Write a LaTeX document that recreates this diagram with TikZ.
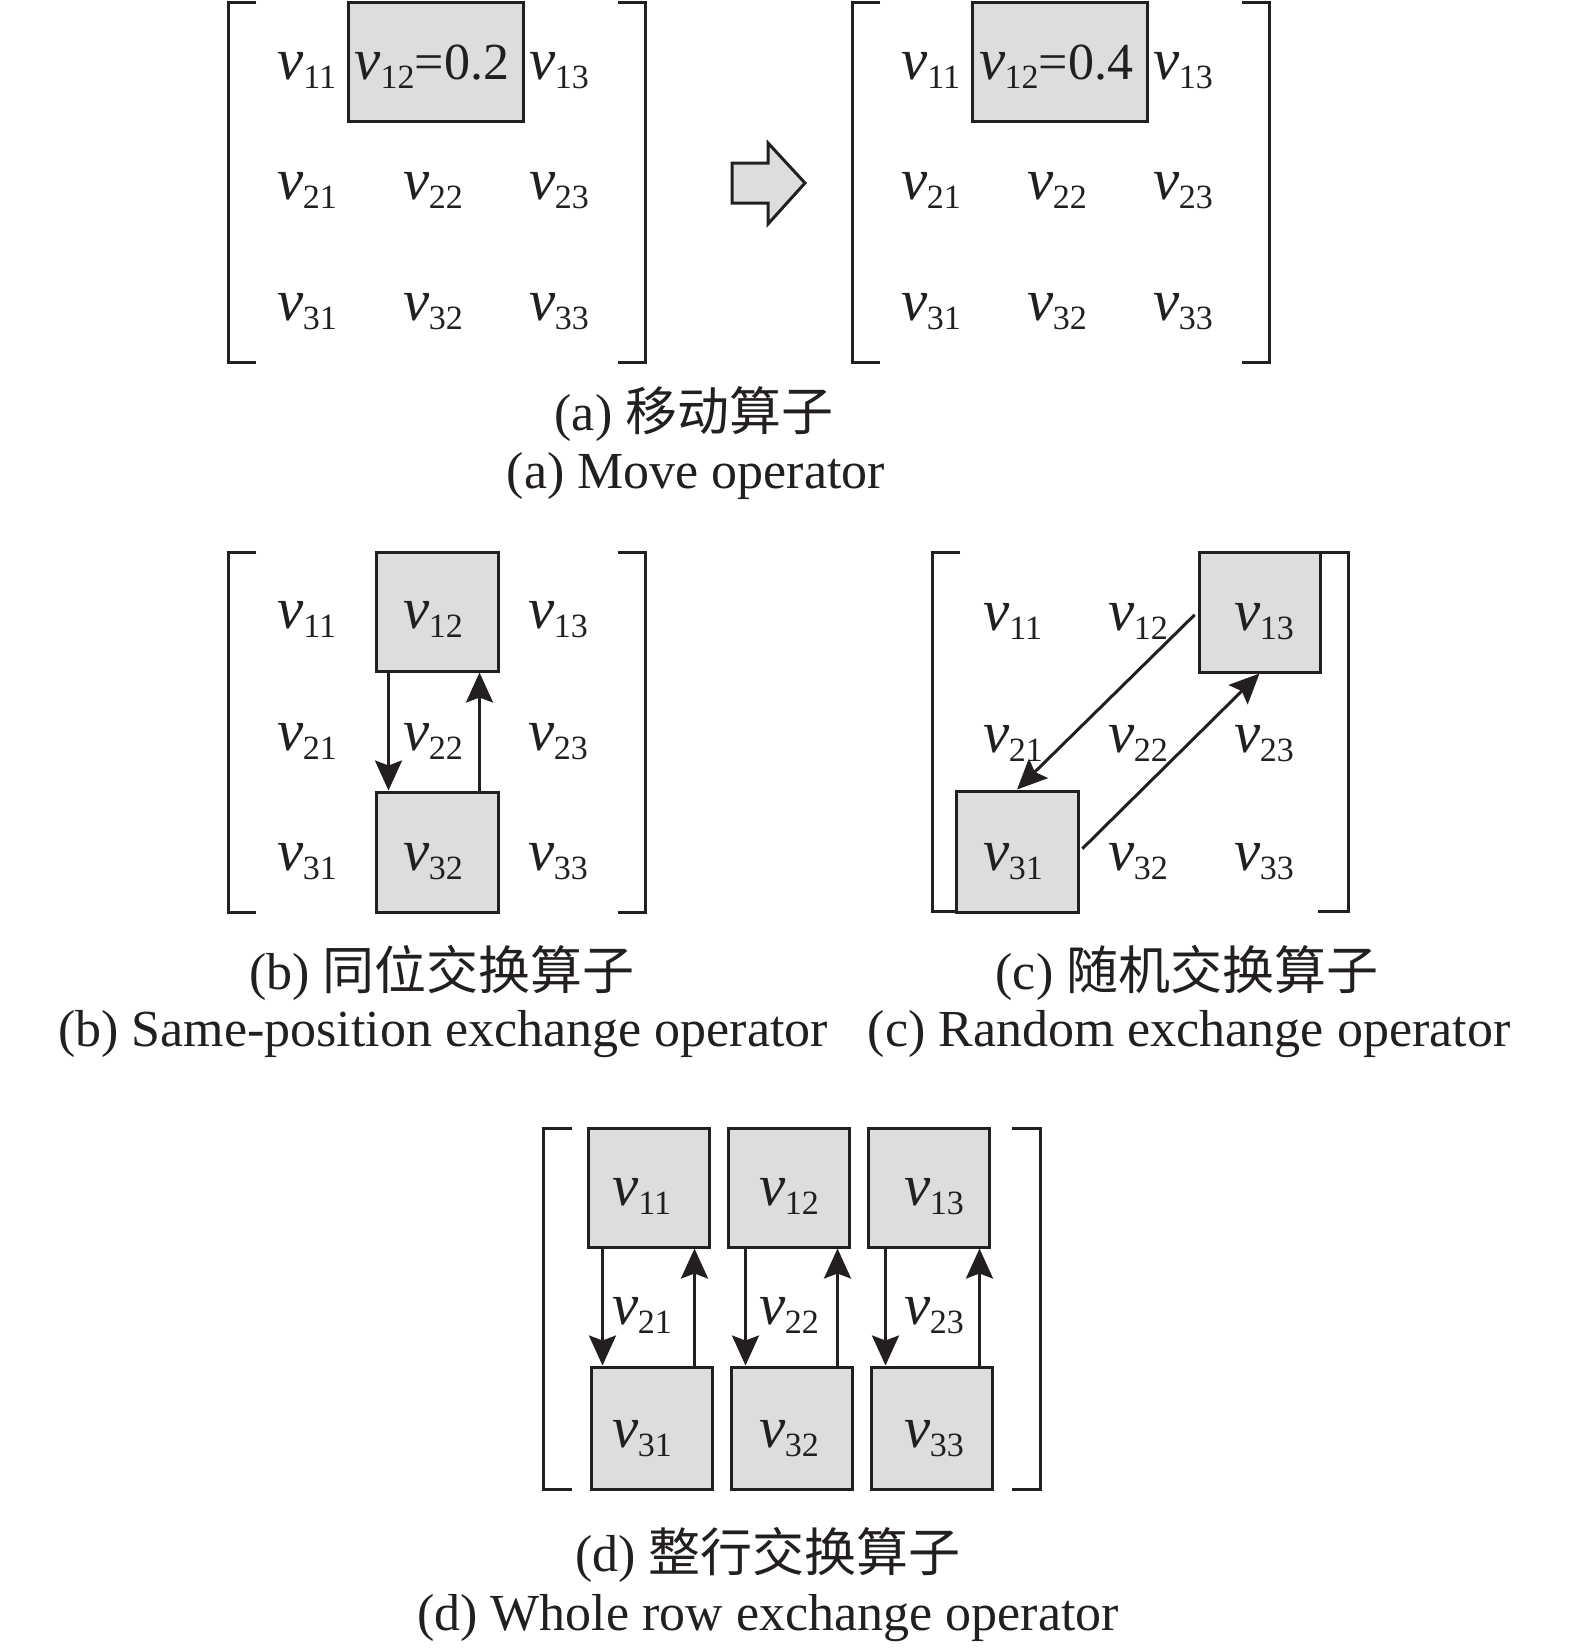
\documentclass[tikz,border=0pt]{standalone}
\usepackage{fontspec}
\setmainfont{Liberation Serif}
\newfontfamily\cjk{Noto Sans CJK SC}
\usetikzlibrary{arrows.meta}
\definecolor{boxgray}{RGB}{221,221,221}
\definecolor{ink}{RGB}{35,31,32}
\newcommand\vv[1]{{\fontsize{59}{59}\selectfont\itshape v}\kern-0.5pt\raisebox{-9pt}{\fontsize{34}{34}\selectfont #1}}
\newcommand\capfont{\fontsize{52}{60}\selectfont}
\begin{document}
\begin{tikzpicture}[x=1pt,y=-1pt,line width=3pt,
  gbox/.style={draw=ink,fill=boxgray,inner sep=0pt},
  entry/.style={anchor=base,inner sep=0pt,text=ink},
  arr/.style={draw=ink,-{Stealth[length=30pt,width=27pt,inset=5pt]}},
  brk/.style={draw=ink,line cap=butt,line join=miter},
  captxt/.style={inner sep=0pt,text=ink,font=\capfont}]
\useasboundingbox (0,0) rectangle (1575,1650);

% ---------- (a) left matrix ----------
\draw[brk] (256,2) -- (228,2) -- (228,362) -- (256,362);
\draw[brk] (618,2) -- (645,2) -- (645,362) -- (618,362);
\node[gbox,minimum width=175pt,minimum height=119pt] (a12box) at (435.5,61.5) {};
\node[entry] (a11) at (307,79) {\vv{11}};
\node[entry] (a12) at (432,79) {\vv{12}{\fontsize{52}{52}\selectfont =0.2}};
\node[entry] (a13) at (559,79) {\vv{13}};
\node[entry] (a21) at (307,199) {\vv{21}};
\node[entry] (a22) at (433,199) {\vv{22}};
\node[entry] (a23) at (559,199) {\vv{23}};
\node[entry] (a31) at (307,320) {\vv{31}};
\node[entry] (a32) at (433,320) {\vv{32}};
\node[entry] (a33) at (559,320) {\vv{33}};

% block arrow
\draw[draw=ink,fill=boxgray,line join=miter] (732,163) -- (768,163) -- (768,143) -- (805,183) -- (768,224) -- (768,203) -- (732,203) -- cycle;

% ---------- (a) right matrix ----------
\draw[brk] (880,2) -- (852,2) -- (852,362) -- (880,362);
\draw[brk] (1242,2) -- (1269,2) -- (1269,362) -- (1242,362);
\node[gbox,minimum width=175pt,minimum height=119pt] (b12box) at (1059.5,61.5) {};
\node[entry] (r11) at (931,79) {\vv{11}};
\node[entry] (r12) at (1056,79) {\vv{12}{\fontsize{52}{52}\selectfont =0.4}};
\node[entry] (r13) at (1183,79) {\vv{13}};
\node[entry] (r21) at (931,199) {\vv{21}};
\node[entry] (r22) at (1057,199) {\vv{22}};
\node[entry] (r23) at (1183,199) {\vv{23}};
\node[entry] (r31) at (931,320) {\vv{31}};
\node[entry] (r32) at (1057,320) {\vv{32}};
\node[entry] (r33) at (1183,320) {\vv{33}};

\node[captxt] (capa1) at (694,414) {(a) {\cjk 移动算子}};
\node[captxt] (capa2) at (696,476) {(a) Move operator};

% ---------- (b) ----------
\draw[brk] (256,552) -- (228,552) -- (228,912) -- (256,912);
\draw[brk] (618,552) -- (645,552) -- (645,912) -- (618,912);
\node[gbox,minimum width=122pt,minimum height=119pt] (b12) at (437,611.5) {};
\node[gbox,minimum width=122pt,minimum height=120pt] (b32) at (437,852) {};
\draw[arr] ([xshift=14pt]b12.south west) -- ([xshift=14pt]b12.south west |- b32.north);
\draw[arr] ([xshift=-20pt]b32.north east) -- ([xshift=-20pt]b32.north east |- b12.south);
\node[entry] (bt11) at (307,628) {\vv{11}};
\node[entry] (bt12) at (433,628) {\vv{12}};
\node[entry] (bt13) at (558,628) {\vv{13}};
\node[entry] (bt21) at (307,750) {\vv{21}};
\node[entry] (bt22) at (433,750) {\vv{22}};
\node[entry] (bt23) at (558,750) {\vv{23}};
\node[entry] (bt31) at (307,870) {\vv{31}};
\node[entry] (bt32) at (433,870) {\vv{32}};
\node[entry] (bt33) at (558,870) {\vv{33}};
\node[captxt] (capb1) at (442,973) {(b) {\cjk 同位交换算子}};
\node[captxt] (capb2) at (443,1034) {(b) Same-position exchange operator};

% ---------- (c) ----------
\draw[brk] (960,552) -- (932,552) -- (932,911) -- (960,911);
\draw[brk] (1318,552) -- (1348,552) -- (1348,911) -- (1318,911);
\node[gbox,minimum width=121pt,minimum height=120pt] (c13) at (1259.5,612) {};
\node[gbox,minimum width=122pt,minimum height=121pt] (c31) at (1017,851.5) {};
\draw[arr,shorten <=4pt] (c13.west) -- (c31.north);
\draw[arr,shorten <=4pt] (c31.east) -- (c13.south);
\node[entry] (ct11) at (1013,630) {\vv{11}};
\node[entry] (ct12) at (1138,630) {\vv{12}};
\node[entry] (ct13) at (1264,630) {\vv{13}};
\node[entry] (ct21) at (1013,752) {\vv{21}};
\node[entry] (ct22) at (1138,752) {\vv{22}};
\node[entry] (ct23) at (1264,752) {\vv{23}};
\node[entry] (ct31) at (1013,870) {\vv{31}};
\node[entry] (ct32) at (1138,870) {\vv{32}};
\node[entry] (ct33) at (1264,870) {\vv{33}};
\node[captxt] (capc1) at (1187,973) {(c) {\cjk 随机交换算子}};
\node[captxt] (capc2) at (1189,1034) {(c) Random exchange operator};

% ---------- (d) ----------
\draw[brk] (572,1128) -- (543,1128) -- (543,1489) -- (572,1489);
\draw[brk] (1012,1128) -- (1040,1128) -- (1040,1489) -- (1012,1489);
\node[gbox,minimum width=121pt,minimum height=119pt] (d11) at (648.5,1187.5) {};
\node[gbox,minimum width=121pt,minimum height=119pt] (d12) at (788.5,1187.5) {};
\node[gbox,minimum width=121pt,minimum height=119pt] (d13) at (928.5,1187.5) {};
\node[gbox,minimum width=121pt,minimum height=122pt] (d31) at (651.5,1428) {};
\node[gbox,minimum width=121pt,minimum height=122pt] (d32) at (791.5,1428) {};
\node[gbox,minimum width=121pt,minimum height=122pt] (d33) at (931.5,1428) {};
\draw[arr] ([xshift=16pt]d11.south west) -- ([xshift=16pt]d11.south west |- d31.north);
\draw[arr] ([xshift=-19pt]d31.north east) -- ([xshift=-19pt]d31.north east |- d11.south);
\draw[arr] ([xshift=19pt]d12.south west) -- ([xshift=19pt]d12.south west |- d32.north);
\draw[arr] ([xshift=-16pt]d32.north east) -- ([xshift=-16pt]d32.north east |- d12.south);
\draw[arr] ([xshift=19pt]d13.south west) -- ([xshift=19pt]d13.south west |- d33.north);
\draw[arr] ([xshift=-14pt]d33.north east) -- ([xshift=-14pt]d33.north east |- d13.south);
\node[entry] (dt11) at (642,1205) {\vv{11}};
\node[entry] (dt12) at (789,1205) {\vv{12}};
\node[entry] (dt13) at (934,1205) {\vv{13}};
\node[entry] (dt21) at (642,1324) {\vv{21}};
\node[entry] (dt22) at (789,1324) {\vv{22}};
\node[entry] (dt23) at (934,1324) {\vv{23}};
\node[entry] (dt31) at (642,1447) {\vv{31}};
\node[entry] (dt32) at (789,1447) {\vv{32}};
\node[entry] (dt33) at (934,1447) {\vv{33}};
\node[captxt] (capd1) at (768,1555) {(d) {\cjk 整行交换算子}};
\node[captxt] (capd2) at (768,1618) {(d) Whole row exchange operator};
\end{tikzpicture}
\end{document}
